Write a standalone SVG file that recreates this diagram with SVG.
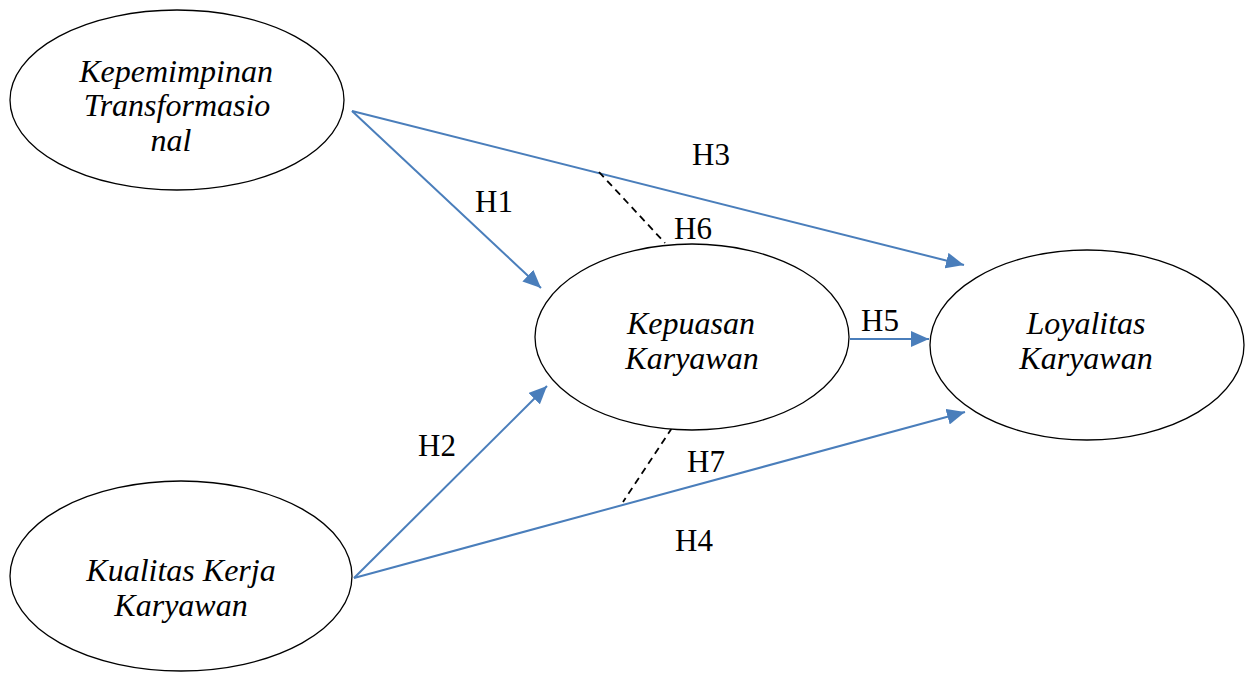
<svg xmlns="http://www.w3.org/2000/svg" width="1255" height="675" viewBox="0 0 1255 675">
<style>
.node ellipse{fill:#fff;stroke:#000;stroke-width:1.3}
.nt{font-family:'Liberation Serif','Times New Roman',serif;font-style:italic;font-size:32px;text-anchor:middle;fill:#000}
.lb{font-family:'Liberation Serif','Times New Roman',serif;font-size:31px;text-anchor:middle;fill:#000}
.ar{stroke:#4a7ebb;stroke-width:2;fill:none}
.da{stroke:#000;stroke-width:1.8;stroke-dasharray:7,5;fill:none}
</style>
<defs>
<marker id="ahb" viewBox="0 0 10 10" refX="10" refY="5" markerWidth="18" markerHeight="16" markerUnits="userSpaceOnUse" orient="auto" preserveAspectRatio="none">
<path d="M0,0 L10,5 L0,10 Z" fill="#4a7ebb"/>
</marker>
</defs>
<rect width="1255" height="675" fill="#fff"/>
<g id="connectors">
<line class="ar" x1="352" y1="111" x2="541" y2="288" marker-end="url(#ahb)"/>
<line class="ar" x1="352" y1="111" x2="964" y2="265" marker-end="url(#ahb)"/>
<line class="ar" x1="354" y1="578" x2="547" y2="386" marker-end="url(#ahb)"/>
<line class="ar" x1="354" y1="578" x2="965" y2="412" marker-end="url(#ahb)"/>
<line class="ar" x1="850" y1="339" x2="929" y2="339" marker-end="url(#ahb)"/>
<line class="da" x1="599" y1="172" x2="665" y2="243"/>
<line class="da" x1="672" y1="428" x2="623" y2="502"/>
<text class="lb" x="494" y="212">H1</text>
<text class="lb" x="711" y="165">H3</text>
<text class="lb" x="693" y="239">H6</text>
<text class="lb" x="880" y="331">H5</text>
<text class="lb" x="437" y="456">H2</text>
<text class="lb" x="706" y="472">H7</text>
<text class="lb" x="694" y="551">H4</text>
</g>
<g id="n1" class="node">
<ellipse cx="177" cy="100" rx="167" ry="90"/>
<text class="nt" x="176" y="82">Kepemimpinan</text>
<text class="nt" x="177" y="116">Transformasio</text>
<text class="nt" x="171" y="151">nal</text>
</g>
<g id="n2" class="node">
<ellipse cx="692" cy="337" rx="157" ry="93"/>
<text class="nt" x="691" y="334">Kepuasan</text>
<text class="nt" x="692" y="369">Karyawan</text>
</g>
<g id="n3" class="node">
<ellipse cx="1087" cy="345" rx="157" ry="95"/>
<text class="nt" x="1086" y="334">Loyalitas</text>
<text class="nt" x="1086" y="369">Karyawan</text>
</g>
<g id="n4" class="node">
<ellipse cx="181" cy="576" rx="171" ry="95"/>
<text class="nt" x="181" y="581">Kualitas Kerja</text>
<text class="nt" x="181" y="616">Karyawan</text>
</g>
</svg>
